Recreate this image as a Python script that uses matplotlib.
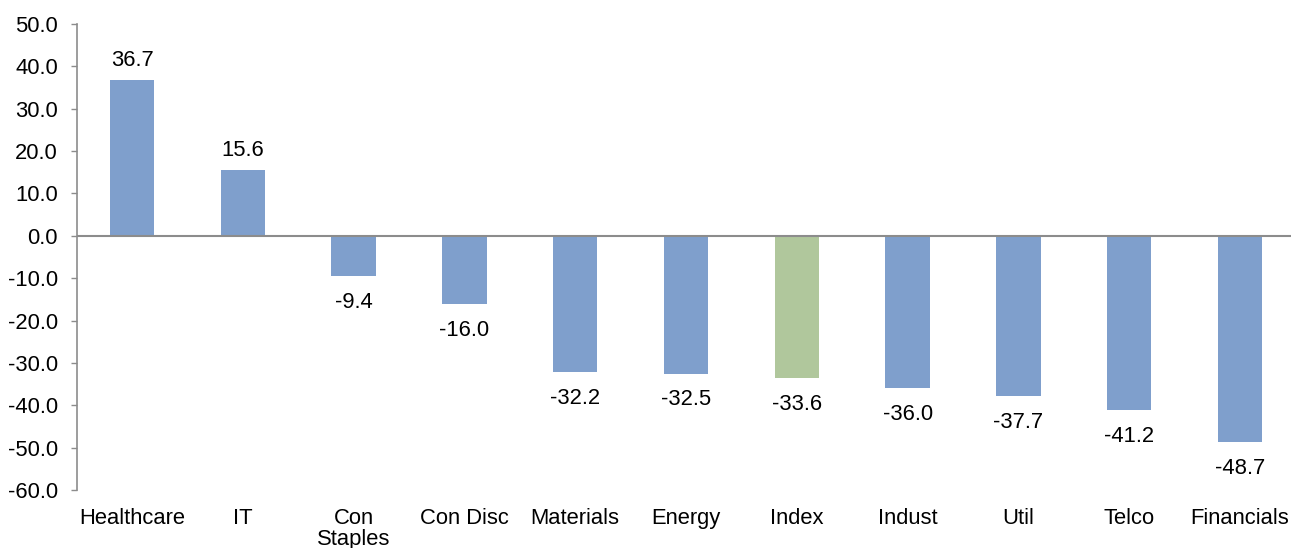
import matplotlib
matplotlib.use("Agg")
import matplotlib.pyplot as plt

categories = ["Healthcare", "IT", "Con\nStaples", "Con Disc", "Materials", "Energy",
              "Index", "Indust", "Util", "Telco", "Financials"]
values = [36.7, 15.6, -9.4, -16.0, -32.2, -32.5, -33.6, -36.0, -37.7, -41.2, -48.7]
highlight = "Index"

BLUE = "#7F9FCC"
GREEN = "#B0C79C"
GRAY = "#8C8C8C"

plt.rcParams["font.family"] = ["Liberation Sans", "DejaVu Sans"]
fs = 15.8

fig = plt.figure(figsize=(12.91, 5.48), dpi=100)
W, H = 1291, 548
ax = fig.add_axes([76.6 / W, (H - 490) / H, 1218.8 / W, 466 / H])

x = list(range(len(categories)))
colors = [GREEN if c == highlight else BLUE for c in categories]
ax.bar(x, values, width=0.4, color=colors, zorder=2)

ax.axhline(0, color=GRAY, lw=1.5, zorder=3)

ax.set_xlim(-0.5, len(categories) - 0.5)
ax.set_ylim(-60, 50)
ax.set_yticks(range(-60, 51, 10))
ax.set_yticklabels([f"{v:.1f}" for v in range(-60, 51, 10)], fontsize=fs)
ax.set_xticks(x)
ax.set_xticklabels(categories, fontsize=fs, linespacing=1.0, va="top")
ax.tick_params(axis="x", length=0, pad=13)
ax.tick_params(axis="y", length=4.5, width=1, color=GRAY, pad=9)

for s in ["top", "right", "bottom"]:
    ax.spines[s].set_visible(False)
ax.spines["left"].set_color(GRAY)
ax.spines["left"].set_linewidth(1.2)

for xi, v in zip(x, values):
    if v >= 0:
        ax.annotate(f"{v:.1f}", (xi, v), xytext=(0, 6.5), textcoords="offset points",
                    ha="center", va="bottom", fontsize=fs)
    else:
        ax.annotate(f"{v:.1f}", (xi, v), xytext=(0, -11.5), textcoords="offset points",
                    ha="center", va="top", fontsize=fs)

fig.savefig("out.png", dpi=100)
